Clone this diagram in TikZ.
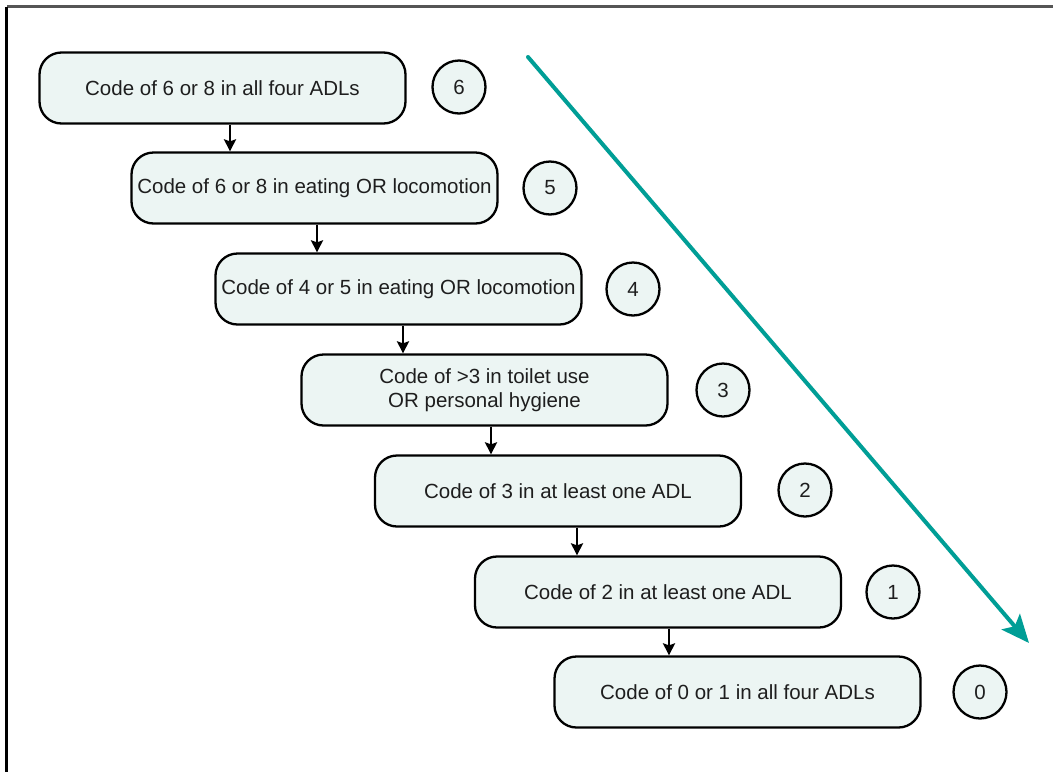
\documentclass[tikz,border=0pt]{standalone}
\usepackage{fontspec}
\setmainfont{Liberation Sans}
\usetikzlibrary{arrows.meta}
\definecolor{boxfill}{HTML}{ECF5F3}
\definecolor{teal}{HTML}{009E96}
\definecolor{txt}{HTML}{1E1E1E}
\definecolor{framegray}{HTML}{555555}
\begin{document}
\begin{tikzpicture}[x=1pt,y=-1pt,
  stepbox/.style={draw=black, line width=2.3pt, fill=boxfill, rounded corners=22pt,
    minimum width=366pt, minimum height=71pt, align=center, text=txt,
    font=\fontsize{20.5}{24}\selectfont, inner sep=0pt},
  levelcirc/.style={draw=black, line width=2.3pt, fill=boxfill, circle,
    minimum size=53pt, inner sep=0pt, text=txt, font=\fontsize{20.5}{24}\selectfont},
  flowarr/.style={line width=2.6pt, -{Stealth[length=12pt,width=12pt,inset=2pt]}},
  trendarr/.style={draw=teal, line width=4pt, line cap=round,
    -{Stealth[length=28pt,width=24pt,inset=6pt]}}]
\useasboundingbox (0,0) rectangle (1053,772);
\fill[white] (0,0) rectangle (1053,772);
\draw[framegray, line width=2.2pt] (1053,6.5) -- (6.5,6.5);
\draw[black, line width=2.2pt] (6.5,6.5) -- (6.5,772);

\node[stepbox] (b1) at (222.5,88) {Code of 6 or 8 in all four ADLs};
\node[stepbox] (b2) at (314.5,188) {Code of 6 or 8 in eating OR locomotion};
\node[stepbox] (b3) at (398.5,289) {Code of 4 or 5 in eating OR locomotion};
\node[stepbox] (b4) at (484.5,390) {Code of >3 in toilet use\\OR personal hygiene};
\node[stepbox] (b5) at (558,491) {Code of 3 in at least one ADL};
\node[stepbox] (b6) at (658,592) {Code of 2 in at least one ADL};
\node[stepbox] (b7) at (737.5,692) {Code of 0 or 1 in all four ADLs};

\node[levelcirc] (c6) at (459,87) {6};
\node[levelcirc] (c5) at (550,188) {5};
\node[levelcirc] (c4) at (633,289) {4};
\node[levelcirc] (c3) at (723,390) {3};
\node[levelcirc] (c2) at (805,490) {2};
\node[levelcirc] (c1) at (893,592) {1};
\node[levelcirc] (c0) at (980,692) {0};

\draw[flowarr] (b1.south -| 230,0) -- (b2.north -| 230,0);
\draw[flowarr] (b2.south -| 317,0) -- (b3.north -| 317,0);
\draw[flowarr] (b3.south -| 403,0) -- (b4.north -| 403,0);
\draw[flowarr] (b4.south -| 491,0) -- (b5.north -| 491,0);
\draw[flowarr] (b5.south -| 577,0) -- (b6.north -| 577,0);
\draw[flowarr] (b6.south -| 669,0) -- (b7.north -| 669,0);

\coordinate (tstart) at (528,57);
\coordinate (tend) at (1029,643);
\draw[trendarr] (tstart) -- (tend);
\end{tikzpicture}
\end{document}
